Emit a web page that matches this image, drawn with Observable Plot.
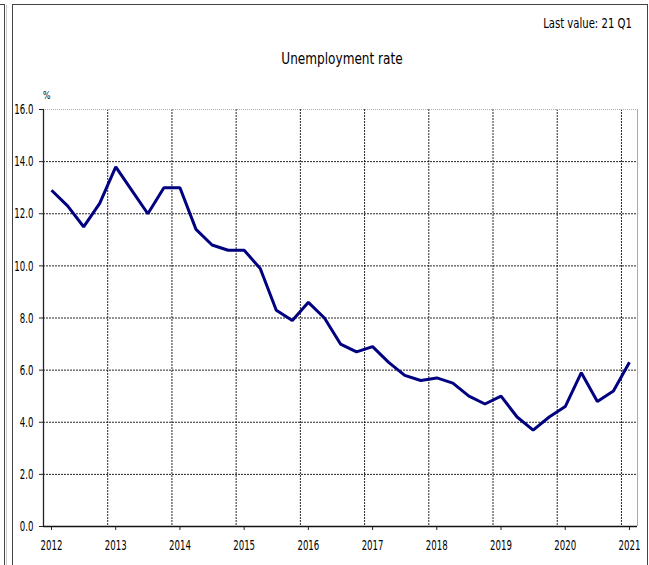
<!DOCTYPE html>
<html>
<head>
<meta charset="utf-8">
<script src="https://cdn.jsdelivr.net/npm/d3@7"></script>
<script src="https://cdn.jsdelivr.net/npm/@observablehq/plot@0.6"></script>
<style>
  html, body { margin: 0; padding: 0; background: #fff; }
  #wrap { position: relative; width: 649px; height: 565px; overflow: hidden; font-family: "DejaVu Sans Condensed", "DejaVu Sans", sans-serif; color: #000; }
  .frame { position: absolute; box-sizing: border-box; border-color: #444; border-style: solid; }
  #leftbox { left: -20px; top: 4px; width: 25px; height: 600px; border-width: 1px 1px 0 0; }
  #mainbox { left: 12px; top: 4px; width: 636px; height: 600px; border-width: 1px 1px 0 1px; }
  #leftshadow { position: absolute; left: 6px; top: 5px; width: 1px; height: 600px; background: #ccc; }
  .txt { position: absolute; line-height: 1; white-space: nowrap; }
  #title { top: 51px; left: 242px; width: 200px; text-align: center; font-size: 16px; transform: scaleX(0.84); transform-origin: 50% 50%; }
  #last { top: 16px; right: 17px; font-size: 14px; transform: scaleX(0.8); transform-origin: 100% 50%; }
  #unit { top: 90px; left: 43px; font-size: 11px; transform: scaleX(0.8); transform-origin: 0 50%; }
  #chart { position: absolute; left: 0; top: 0; }
</style>
</head>
<body>
<div id="wrap">
  <div class="frame" id="leftbox"></div>
  <div id="leftshadow"></div>
  <div class="frame" id="mainbox"></div>
  <div class="txt" id="last">Last value: 21 Q1</div>
  <div class="txt" id="title">Unemployment rate</div>
  <div class="txt" id="unit">%</div>
  <div id="chart"></div>
</div>
<script>
// Quarterly unemployment rate, 2012 Q1 – 2021 Q1 (%)
const quarters = [
  "2012Q1","2012Q2","2012Q3","2012Q4",
  "2013Q1","2013Q2","2013Q3","2013Q4",
  "2014Q1","2014Q2","2014Q3","2014Q4",
  "2015Q1","2015Q2","2015Q3","2015Q4",
  "2016Q1","2016Q2","2016Q3","2016Q4",
  "2017Q1","2017Q2","2017Q3","2017Q4",
  "2018Q1","2018Q2","2018Q3","2018Q4",
  "2019Q1","2019Q2","2019Q3","2019Q4",
  "2020Q1","2020Q2","2020Q3","2020Q4",
  "2021Q1"
];
const rates = [
  12.9, 12.3, 11.5, 12.4,
  13.8, 12.9, 12.0, 13.0,
  13.0, 11.4, 10.8, 10.6,
  10.6, 9.9, 8.3, 7.9,
  8.6, 8.0, 7.0, 6.7,
  6.9, 6.3, 5.8, 5.6,
  5.7, 5.5, 5.0, 4.7,
  5.0, 4.2, 3.7, 4.2,
  4.6, 5.9, 4.8, 5.2,
  6.3
];
const yearTicks = [2012, 2013, 2014, 2015, 2016, 2017, 2018, 2019, 2020, 2021];
const yTicks = [0, 2, 4, 6, 8, 10, 12, 14, 16];

// place each quarter at its middle on a continuous year axis
const data = quarters.map((q, i) => {
  const yr = +q.slice(0, 4), qn = +q.slice(5);
  return { t: yr + (qn - 1) / 4 + 0.125, v: rates[i] };
});

const grid = { stroke: "#000", strokeWidth: 1, strokeDasharray: "2,1", strokeOpacity: 0.85 };

const chart = Plot.plot({
  width: 649,
  height: 565,
  marginLeft: 43,
  marginRight: 12,
  marginTop: 109,
  marginBottom: 39,
  style: { fontFamily: '"DejaVu Sans Condensed", "DejaVu Sans", sans-serif', fontSize: "14.5px", color: "#000", background: "transparent" },
  x: { domain: [2012, 2021.25], label: null },
  y: { domain: [0, 16], label: null },
  marks: [
    Plot.ruleY(yTicks.filter(d => d > 0 && d < 16), { ...grid }),
    Plot.ruleX(yearTicks.filter(d => d > 2012), { ...grid }),
    Plot.ruleY([16], { stroke: "#aaa", strokeWidth: 1, strokeDasharray: "1,1" }),
    Plot.ruleX([2021.25], { stroke: "#aaa", strokeWidth: 1 }),
    Plot.axisY({ ticks: yTicks, tickSize: 4, tickPadding: 6, tickFormat: d => d.toFixed(1), label: null, stroke: "#222" }),
    Plot.axisX({ ticks: yearTicks, tickSize: 4, tickPadding: 9, tickFormat: d => String(d), dx: 8, label: null, stroke: "#222" }),
    Plot.ruleX([2012], { stroke: "#222", strokeWidth: 1.3 }),
    Plot.ruleY([0], { stroke: "#111", strokeWidth: 1.5 }),
    Plot.line(data, { x: "t", y: "v", stroke: "#000080", strokeWidth: 3, strokeLinejoin: "miter", strokeLinecap: "butt" })
  ]
});
// narrow the tick labels horizontally, like the reference's condensed face
d3.select(chart).selectAll('g[aria-label$="tick label"] text').each(function () {
  const t = this.getAttribute("transform") || "";
  this.setAttribute("transform", (t + " scale(0.66,1)").trim());
});
document.getElementById("chart").appendChild(chart);
</script>
</body>
</html>
